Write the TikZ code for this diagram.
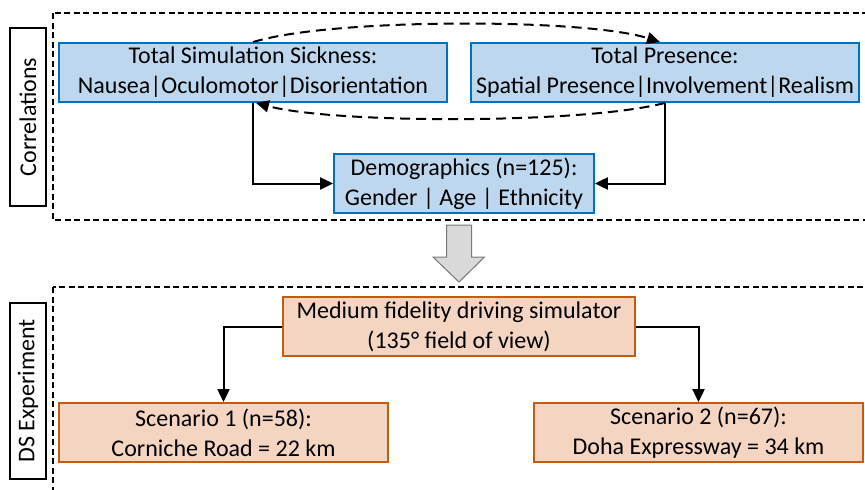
\documentclass[tikz,border=0pt]{standalone}
\usepackage{fontspec}
\setmainfont{Carlito}
\usepackage{xcolor}
\definecolor{FillBlue}{RGB}{189,215,238}
\definecolor{BorderBlue}{RGB}{0,112,192}
\definecolor{FillOrange}{RGB}{243,213,194}
\definecolor{BorderOrange}{RGB}{197,90,17}
\definecolor{FillGray}{RGB}{217,217,217}
\definecolor{BorderGray}{RGB}{120,120,120}
\usetikzlibrary{arrows.meta, positioning, calc}
\tikzset{
  % Blue measure boxes
  mbox/.style={
    rectangle, draw=BorderBlue, line width=1.8pt,
    fill=FillBlue, align=center,
    minimum height=59pt, inner sep=1pt,
    font=\fontsize{24}{30}\selectfont
  },
  % Orange experiment boxes
  mbox orange/.style={mbox, fill=FillOrange, draw=BorderOrange},
  % Side labels
  sidelabel/.style={
    rectangle, draw=black, line width=1.8pt, fill=white,
    rotate=90, minimum height=36pt, inner sep=1pt,
    font=\fontsize{24}{30}\selectfont
  },
  % Dashed panel frames
  panel/.style={draw=black, line width=1.6pt, dash pattern=on 6pt off 3.5pt},
  % Arrows
  arr/.style={-{Triangle[length=13pt,width=12pt]}, line width=2pt},
  darr/.style={arr, dash pattern=on 10pt off 6pt},
}
\begin{document}
\begin{tikzpicture}[x=1pt, y=-1pt]

  \clip (0,0) rectangle (865,490);
  \fill[white] (0,0) rectangle (865,490);

  %% Panel frames
  \draw[panel] (53,13) rectangle (890,220);
  \draw[panel] (53,287) rectangle (890,520);

  %% Side labels
  \node[sidelabel, minimum width=178pt] (corr) at (28,117) {Correlations};
  \node[sidelabel, minimum width=176pt] (dsexp) at (28,391) {DS Experiment};

  %% Correlation panel
  \node[mbox, minimum width=388pt] (tss) at (253,72.5)
    {Total Simulation Sickness:\\Nausea|Oculomotor|Disorientation};
  \node[mbox, minimum width=388pt] (tp) at (665,72.5)
    {Total Presence:\\Spatial Presence|Involvement|Realism};
  \node[mbox, minimum width=260pt] (demo) at (464,183.5)
    {Demographics (n=125):\\Gender | Age | Ethnicity};

  %% Experiment panel
  \node[mbox orange, minimum width=352pt] (sim) at (459,326.5)
    {Medium fidelity driving simulator\\(135° field of view)};
  \node[mbox orange, minimum width=329pt] (sc1) at (223.5,432.5)
    {Scenario 1 (n=58):\\Corniche Road = 22 km};
  \node[mbox orange, minimum width=329pt] (sc2) at (698.5,432.5)
    {Scenario 2 (n=67):\\Doha Expressway = 34 km};

  %% Correlation arrows
  \draw[darr] (tss.north) .. controls (330,18) and (585,18) .. ([xshift=-5pt]tp.north);
  \draw[darr] (tp.south) .. controls (585,124) and (335,124) .. ([xshift=3pt]tss.south);
  \draw[arr] (tss.south) |- (demo.west);
  \draw[arr] (tp.south) |- (demo.east);

  %% Transition arrow between panels
  \coordinate (flow) at (459,225);
  \draw[fill=FillGray, draw=BorderGray, line width=1pt]
    ($(flow)+(-12.5,0)$) -- ++(25,0) -- ++(0,32) -- ++(13,0)
    -- ($(flow)+(0,57)$) -- ($(flow)+(-26,32)$) -- ++(13.5,0) -- cycle;

  %% Experiment arrows
  \draw[arr] (sim.west) -| (sc1.north);
  \draw[arr] (sim.east) -| (sc2.north);

\end{tikzpicture}
\end{document}
